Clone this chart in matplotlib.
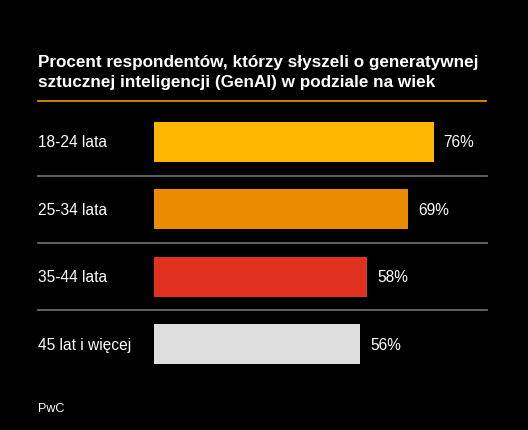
import matplotlib
matplotlib.use("Agg")
import matplotlib.pyplot as plt
import matplotlib.transforms as mtransforms
from matplotlib.lines import Line2D

categories = ["18-24 lata", "25-34 lata", "35-44 lata", "45 lat i więcej"]
values = [76, 69, 58, 56]
value_labels = ["76%", "69%", "58%", "56%"]
colors = ["#FFB600", "#EB8C00", "#E0301E", "#DEDEDE"]
title_lines = ["Procent respondentów, którzy słyszeli o generatywnej",
               "sztucznej inteligencji (GenAI) w podziale na wiek"]
source = "PwC"

plt.rcParams['font.family'] = ['Liberation Sans', 'DejaVu Sans']

W, H = 528, 431
fig = plt.figure(figsize=(W / 100, H / 100), dpi=100, facecolor="black")

# axes: x=0 at 154px, 3.68 px per unit
ax_left = 154
ax_w = 368
ax_top = 109.3
ax_bot = 378.7
ax = fig.add_axes([ax_left / W, 1 - ax_bot / H, ax_w / W, (ax_bot - ax_top) / H])
ax.set_facecolor("black")
ax.set_xlim(0, 100)
ax.set_ylim(len(categories) - 0.5, -0.5)
ax.axis("off")

ypos = list(range(len(categories)))
ax.barh(ypos, values, height=0.594, color=colors, edgecolor="none")

for y, v, lab in zip(ypos, values, value_labels):
    ax.annotate(lab, (v, y), xytext=(10, 0), textcoords="offset pixels",
                ha="left", va="center", color="white", fontsize=11.2)

blend = mtransforms.blended_transform_factory(fig.transFigure, ax.transData)
for y, cat in zip(ypos, categories):
    fig.text(38 / W, y, cat, transform=blend, ha="left", va="center",
             color="white", fontsize=11.2)

for y in [0.5, 1.5, 2.5]:
    fig.add_artist(Line2D([38 / W, 487 / W], [y, y], transform=blend,
                          color="#6a6a6a", linewidth=1.3))

# title
fig.text(38 / W, 1 - 67 / H, title_lines[0], ha="left", va="baseline",
         color="white", fontsize=12.3, fontweight="bold")
fig.text(38 / W, 1 - 87.5 / H, title_lines[1], ha="left", va="baseline",
         color="white", fontsize=12.3, fontweight="bold")
fig.add_artist(Line2D([38 / W, 486 / W], [1 - 101.7 / H] * 2,
                      transform=fig.transFigure, color="#D4940A", linewidth=1.3))

fig.text(38 / W, 1 - 409 / H, source, ha="left", va="center",
         color="white", fontsize=9)

fig.savefig("out.png", dpi=100, facecolor="black")
